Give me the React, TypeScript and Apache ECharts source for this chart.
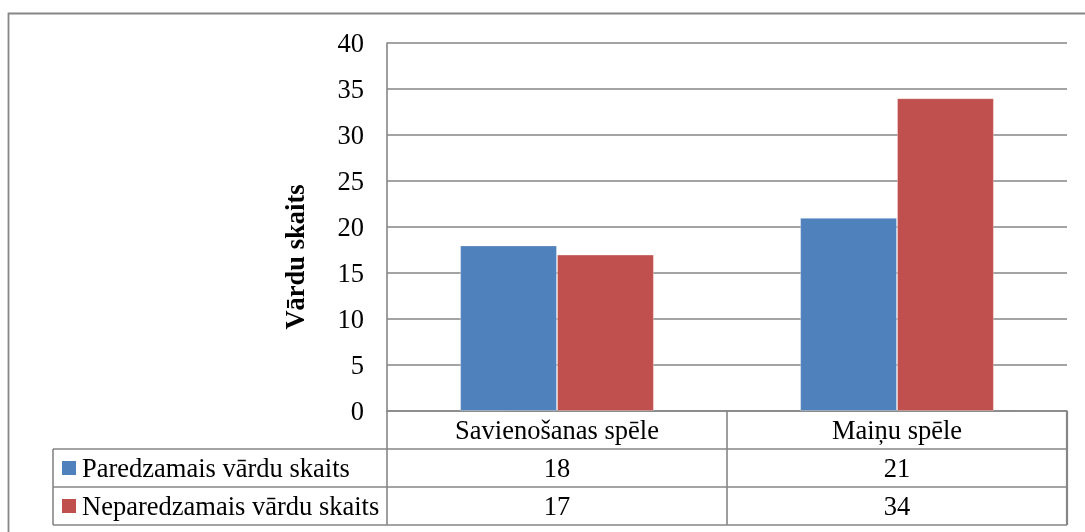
import React, { useEffect, useRef } from "react";
import * as echarts from "echarts";

const categories = ["Savienošanas spēle", "Maiņu spēle"];
const seriesNames = ["Paredzamais vārdu skaits", "Neparedzamais vārdu skaits"];
const expected = [18, 21];
const unexpected = [17, 34];
const colors = ["#4F81BD", "#C0504D"];
const yTitle = "Vārdu skaits";

const FONT = "Liberation Serif";
const FS = 26.5;
const LINE = "#868686";

export default function App() {
  const ref = useRef<HTMLDivElement>(null);
  useEffect(() => {
    if (!ref.current) return;
    const chart = echarts.init(ref.current, undefined, { renderer: "svg" });
    const gridLeft = 387;
    const gridTop = 43;
    const gridRight = 1067;
    const gridBottom = 411;
    const rowH = 38;
    const legLeft = 53;
    const seriesData = [expected, unexpected];

    chart.setOption({
      animation: false,
      grid: {
        left: gridLeft,
        top: gridTop,
        right: 1085 - gridRight,
        bottom: 532 - gridBottom,
      },
      xAxis: {
        type: "category",
        data: categories,
        axisLine: { show: true, lineStyle: { color: LINE, width: 1.6 } },
        axisTick: { show: false },
        axisLabel: {
          fontSize: FS,
          fontFamily: FONT,
          fontWeight: "normal",
          color: "#000",
          margin: 6,
          lineHeight: 26,
        },
      },
      yAxis: {
        type: "value",
        min: 0,
        max: 40,
        interval: 5,
        axisLine: { show: true, lineStyle: { color: LINE, width: 1.6 } },
        axisTick: { show: false },
        axisLabel: {
          fontSize: FS,
          fontFamily: FONT,
          fontWeight: "normal",
          color: "#000",
          margin: 23,
        },
        splitLine: { show: true, lineStyle: { color: LINE, width: 1.6 } },
      },
      series: seriesNames.map((name, i) => ({
        name,
        type: "bar",
        data: seriesData[i],
        barGap: "0%",
        barCategoryGap: "43%",
        itemStyle: {
          color: colors[i],
          borderColor: "rgba(255,255,255,0.3)",
          borderWidth: 1,
        },
      })),
    });

    const cx = categories.map(
      (c) => chart.convertToPixel({ xAxisIndex: 0 }, c) as number
    );
    const half = (gridRight - gridLeft) / categories.length / 2;
    const lineStyle = { stroke: LINE, lineWidth: 1.6 };
    const g: any[] = [];

    g.push({
      type: "rect",
      shape: { x: 8.5, y: 13.5, width: 1200, height: 700 },
      style: { fill: "none", stroke: LINE, lineWidth: 1.8 },
      silent: true,
    });

    g.push({
      type: "text",
      x: 295,
      y: 257,
      rotation: Math.PI / 2,
      style: {
        text: yTitle,
        fontFamily: FONT,
        fontSize: FS,
        fontWeight: "bold",
        fill: "#000",
        align: "center",
        verticalAlign: "middle",
      },
    });

    const rowsTop = gridBottom + rowH;
    const tableBottom = gridBottom + rowH * 3;
    g.push({ type: "line", shape: { x1: legLeft, y1: rowsTop, x2: gridRight, y2: rowsTop }, style: lineStyle });
    g.push({ type: "line", shape: { x1: legLeft, y1: rowsTop + rowH, x2: gridRight, y2: rowsTop + rowH }, style: lineStyle });
    g.push({ type: "line", shape: { x1: legLeft, y1: tableBottom, x2: gridRight, y2: tableBottom }, style: lineStyle });
    g.push({ type: "line", shape: { x1: legLeft, y1: rowsTop, x2: legLeft, y2: tableBottom }, style: lineStyle });
    g.push({ type: "line", shape: { x1: gridLeft, y1: gridBottom, x2: gridLeft, y2: tableBottom }, style: lineStyle });
    cx.forEach((x, i) => {
      const right = x + half;
      g.push({
        type: "line",
        shape: { x1: right, y1: gridBottom, x2: right, y2: tableBottom },
        style: { stroke: LINE, lineWidth: i === cx.length - 1 ? 2.2 : 1.6 },
      });
    });

    seriesNames.forEach((name, i) => {
      const cy = rowsTop + rowH * i + rowH / 2;
      g.push({
        type: "rect",
        shape: { x: 62, y: cy - 7, width: 14, height: 14 },
        style: { fill: colors[i] },
      });
      g.push({
        type: "text",
        x: 82,
        y: cy,
        style: {
          text: name,
          fontFamily: FONT,
          fontWeight: "normal",
          fontSize: FS,
          fill: "#000",
          align: "left",
          verticalAlign: "middle",
        },
      });
      seriesData[i].forEach((v, j) => {
        g.push({
          type: "text",
          x: cx[j],
          y: cy,
          style: {
            text: String(v),
            fontFamily: FONT,
            fontWeight: "normal",
            fontSize: FS,
            fill: "#000",
            align: "center",
            verticalAlign: "middle",
          },
        });
      });
    });

    chart.setOption({ graphic: g });

    return () => chart.dispose();
  }, []);

  return (
    <div
      ref={ref}
      style={{ position: "fixed", left: 0, top: 0, width: 1085, height: 532 }}
    />
  );
}
